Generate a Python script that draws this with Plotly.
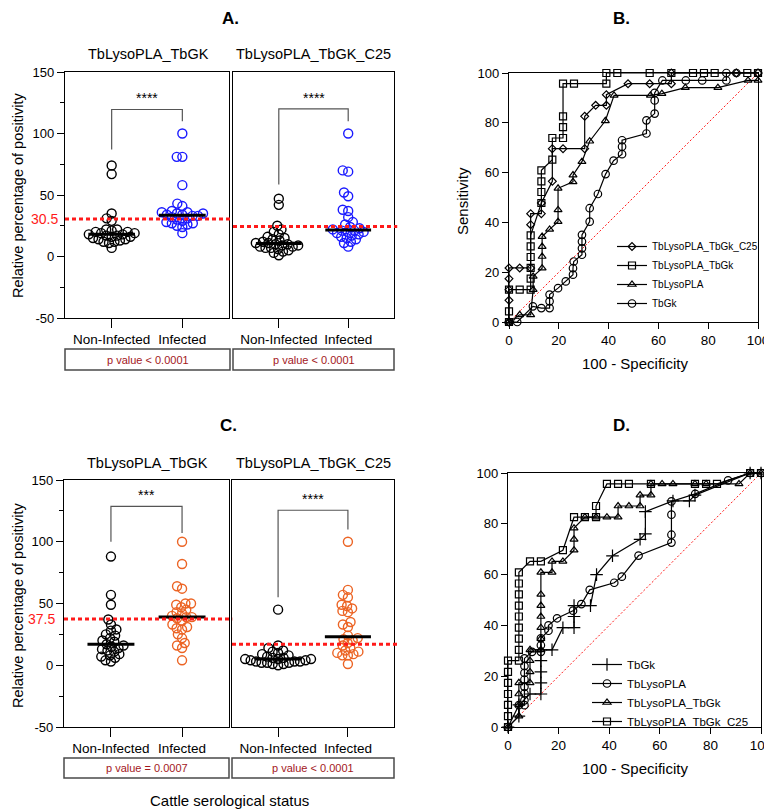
import numpy as np
import plotly.graph_objects as go

# the page body keeps an 8px margin, so the figure is placed 8px in from the window corner
OFF = 8
W, H = 772 - OFF, 810 - OFF
FONT = "Liberation Sans, Arial, sans-serif"

groups = ["Non-Infected", "Infected"]
sub_titles = ["TbLysoPLA_TbGK", "TbLysoPLA_TbGK_C25"]

# panel A - relative percentage of positivity (blue)
a1_neg = [74, 67, 35, 31, 29, 22, 22, 21, 20, 20, 19, 19, 18, 18, 17, 17, 16, 16, 15, 14, 14, 13, 12, 12, 11, 7]
a1_pos = [100, 81, 81, 58, 43, 41, 37, 36, 36, 35, 35, 34, 34, 33, 33, 32, 31, 30, 29, 28, 27, 27, 26, 25, 24, 19]
a2_neg = [47, 42, 25, 22, 20, 18, 16, 15, 14, 13, 12, 11, 11, 10, 10, 9, 9, 8, 8, 7, 7, 6, 5, 4, 3, 1]
a2_pos = [100, 70, 69, 52, 49, 38, 37, 32, 28, 26, 24, 23, 22, 21, 21, 20, 20, 19, 18, 17, 16, 15, 14, 12, 11, 8]
a_cutoffs = [30.5, 24.4]
a_stars = ["****", "****"]
a_pvalues = ["p value < 0.0001", "p value < 0.0001"]
# bracket: top, left end, right end
a_brackets = [(119.5, 87, 110), (120, 58.5, 110)]

# panel C - relative percentage of positivity (orange)
c1_neg = [88, 57, 49, 37, 33, 29, 28, 25, 24, 22, 20, 19, 17, 16, 15, 14, 13, 12, 11, 9, 8, 7, 6, 4, 3]
c1_pos = [100, 82, 64, 62, 50, 50, 49, 47, 45, 43, 42, 40, 39, 39, 38, 36, 33, 31, 30, 29, 25, 22, 18, 16, 14, 4]
c2_neg = [45, 16, 14, 12, 11, 10, 9, 8, 7, 6, 6, 5, 5, 5, 4, 4, 3, 3, 3, 2, 2, 2, 1, 1, 0]
c2_pos = [100, 61, 57, 55, 49, 48, 46, 44, 43, 35, 33, 31, 24, 22, 21, 20, 18, 16, 14, 12, 11, 10, 9, 8, 8, 1]
c_cutoffs = [37.5, 17]
c_stars = ["***", "****"]
c_pvalues = ["p value = 0.0007", "p value < 0.0001"]
c_brackets = [(128.7, 100, 107), (125.5, 55, 110)]

# panel B - ROC curves
b_c25_x = [0, 0, 0, 0, 0, 4.3, 8.7, 8.7, 8.7, 13, 13, 17.4, 17.4, 21.7, 30.4, 30.4, 34.8, 39.1, 39.1, 47.8, 56.5, 65.2, 65.2, 91.3, 100]
b_c25_y = [0, 8.7, 13, 17.4, 21.7, 21.7, 21.7, 39.1, 43.5, 43.5, 47.8, 56.5, 69.6, 69.6, 69.6, 82.6, 87, 87, 91.3, 95.7, 95.7, 95.7, 100, 100, 100]
b_gk2_x = [0, 0, 0, 4.3, 8.7, 8.7, 8.7, 8.7, 8.7, 8.7, 13, 13, 13, 13, 17.4, 17.4, 21.7, 21.7, 21.7, 21.7, 26.1, 39.1, 39.1, 43.5, 56.5, 65.2, 73.9, 78.3, 82.6, 95.7, 100]
b_gk2_y = [0, 4.3, 13, 13, 13, 17.4, 21.7, 26.1, 30.4, 34.8, 47.8, 52.2, 56.5, 60.9, 65.2, 73.9, 73.9, 78.3, 82.6, 95.7, 95.7, 95.7, 100, 100, 100, 100, 100, 100, 100, 100, 100]
b_pla_x = [0, 4.3, 8.7, 9.7, 9.7, 13.3, 13.3, 13.3, 13.3, 16.3, 19.7, 19.7, 19.7, 25.7, 25.7, 29.3, 32.4, 38.7, 42.2, 56.8, 61.4, 70.8, 83.9, 96, 100]
b_pla_y = [0, 2.9, 2.9, 13, 18.3, 21.6, 26.3, 30.3, 34.3, 37.2, 40.3, 45, 53.7, 56.3, 59, 64.4, 72.6, 80.8, 91, 91, 91.7, 94.1, 94.1, 97, 97]
b_gk_x = [0, 3.3, 9.6, 13, 16.3, 16.3, 16.3, 19.7, 22.8, 25.7, 25.7, 26, 29.3, 29.3, 29.3, 29.3, 32.4, 32.4, 35.7, 38.8, 42, 45.4, 45.4, 45.4, 55.2, 55.2, 58.5, 58.5, 58.5, 61.6, 71, 77.6, 87.3, 87.3, 91.3, 100]
b_gk_y = [0, 0, 6.3, 5.6, 5.6, 8.3, 11, 13.6, 16.3, 19, 21.6, 24.3, 27, 29.6, 32.3, 35, 40.3, 45.7, 51.4, 59.4, 64.8, 67.4, 70.4, 73, 75.7, 81, 83.7, 89, 92, 97, 97, 97, 97, 100, 100, 100]

# panel D - ROC curves
d_gk_x = [0, 4.3, 4.3, 8.7, 13, 13, 13, 13, 13, 17.4, 21.7, 26.1, 26.1, 26.1, 32.6, 35, 41.3, 52.2, 54.3, 54.3, 65.2, 71.7, 73.9, 95.7, 100]
d_gk_y = [0, 4.3, 8.7, 13, 13, 17.4, 21.7, 26.1, 30.4, 30.4, 39.1, 39.1, 43.5, 47.8, 47.8, 60, 67.4, 73.9, 76, 84.8, 89, 89, 91.3, 100, 100]
d_pla_x = [0, 4.3, 6.5, 6.5, 6.5, 6.5, 6.5, 6.5, 6.5, 6.5, 9.5, 13, 13, 13, 16, 16, 19.4, 25.7, 29, 32.3, 42, 45, 51.6, 64.6, 64.6, 64.6, 64.6, 74, 87, 95.7, 100]
d_pla_y = [0, 8.6, 8.6, 10.5, 13.2, 15.8, 18.7, 21.3, 24, 27, 29.6, 29.6, 32.2, 34.9, 37.9, 40, 42.8, 45.8, 48.4, 54, 56.8, 59.2, 67.5, 72.6, 75.7, 83.6, 88.8, 91.8, 97.1, 100, 100]
d_gk2_x = [0, 4.3, 4.3, 4.3, 4.3, 8.7, 8.7, 8.7, 8.7, 13, 13, 13, 13, 13, 13, 13, 17.4, 17.4, 21.7, 26.1, 26.1, 26.1, 30.4, 34.8, 39.1, 43.5, 43.5, 47.8, 52.2, 52.2, 56.5, 56.5, 60.9, 65.2, 73.9, 78.3, 91.3, 95.7, 100]
d_gk2_y = [0, 4.3, 8.7, 13, 17.4, 17.4, 21.7, 26.1, 30.4, 30.4, 34.8, 39.1, 43.5, 47.8, 52.2, 60.9, 60.9, 65.2, 65.2, 69.6, 73.9, 78.3, 82.6, 82.6, 82.6, 82.6, 87, 87, 87, 91.3, 91.3, 95.7, 95.7, 95.7, 95.7, 95.7, 95.7, 100, 100]
d_c25_x = [0, 0, 0, 0, 0, 0, 0, 4.3, 4.3, 4.3, 4.3, 4.3, 4.3, 4.3, 4.3, 4.3, 8.7, 13, 21.7, 26.1, 30.4, 34.8, 34.8, 39.1, 43.5, 47.8, 56.5, 73.9, 78.3, 82.6, 95.7, 100]
d_c25_y = [0, 4.3, 8.7, 13, 17.4, 21.7, 26.1, 26.1, 30.4, 34.8, 39.1, 43.5, 47.8, 52.2, 56.5, 60.9, 65.2, 65.2, 69.6, 82.6, 82.6, 82.6, 87, 95.7, 95.7, 95.7, 95.7, 95.7, 95.7, 95.7, 100, 100]

BLUE = "#1a1aff"
ORANGE = "#ec6424"
RED = "#ff1a1a"
DARKRED = "#a3171c"


# screen pixel -> paper fraction
def px_x(p):
    return (p - OFF) / W


def px_y(p):
    return 1 - (p - OFF) / H


def dom_x(a, b):
    return [px_x(a), px_x(b)]


def dom_y(top, bottom):
    return [px_y(bottom), px_y(top)]


def swarm(values, ppu_y, ppu_x, d=5.6):
    # simple beeswarm: place each point as close to the centre as it fits
    order = np.argsort(values)
    placed = []
    xs = np.zeros(len(values))
    for i in order:
        y = values[i] * ppu_y
        cands = [0.0]
        for (qx, qy) in placed:
            dy = abs(qy - y)
            if dy < d:
                dx = np.sqrt(d * d - dy * dy)
                cands += [qx + dx, qx - dx]
        cands.sort(key=lambda c: (abs(c), c))
        best = 0.0
        for c in cands:
            if all((c - qx) ** 2 + (y - qy) ** 2 >= d * d - 1e-6 for qx, qy in placed):
                best = c
                break
        placed.append((best, y))
        xs[i] = best / ppu_x
    return xs


fig = go.Figure()
shapes = []
annotations = []

# dot-plot subplots: (axis index, x domain px, y domain px, neg, pos, colour, cutoff, stars, bracket)
dot_panels = [
    (1, (65, 229), (72, 318), a1_neg, a1_pos, BLUE, a_cutoffs[0], a_stars[0], a_brackets[0]),
    (2, (233, 394), (72, 318), a2_neg, a2_pos, BLUE, a_cutoffs[1], a_stars[1], a_brackets[1]),
    (3, (64, 229), (480, 727), c1_neg, c1_pos, ORANGE, c_cutoffs[0], c_stars[0], c_brackets[0]),
    (4, (232, 394), (480, 727), c2_neg, c2_pos, ORANGE, c_cutoffs[1], c_stars[1], c_brackets[1]),
]
XR = [-0.66, 1.66]
YR = [-50, 150]

for (k, xd, yd, neg, pos, col, cut, star, br) in dot_panels:
    ppu_x = (xd[1] - xd[0]) / (XR[1] - XR[0])
    ppu_y = (yd[1] - yd[0]) / (YR[1] - YR[0])
    xn = "x" if k == 1 else "x%d" % k
    yn = "y" if k == 1 else "y%d" % k
    for g, vals, c in [(0, neg, "black"), (1, pos, col)]:
        vals = np.array(vals, dtype=float)
        offs = swarm(vals, ppu_y, ppu_x)
        fig.add_trace(go.Scatter(
            x=g + offs, y=vals, mode="markers", xaxis=xn, yaxis=yn,
            showlegend=False, cliponaxis=False,
            marker=dict(symbol="circle-open", size=9, color=c,
                        line=dict(color=c, width=1.4)),
        ))
        med = float(np.median(vals))
        shapes.append(dict(type="line", xref=xn, yref=yn, x0=g - 0.33, x1=g + 0.33,
                           y0=med, y1=med, line=dict(color="black", width=3)))
    # cut-off line
    shapes.append(dict(type="line", xref=xn + " domain", yref=yn, x0=0, x1=1.02,
                       y0=cut, y1=cut, line=dict(color=RED, width=3, dash="4px,3px")))
    # significance bracket
    top, le, re = br
    shapes.append(dict(type="path", xref=xn, yref=yn,
                       path="M 0,%s L 0,%s L 1,%s L 1,%s" % (le, top, top, re),
                       line=dict(color="#555555", width=1.2)))
    annotations.append(dict(x=0.5, y=top + 1, xref=xn, yref=yn, text=star, showarrow=False,
                            xanchor="center", yanchor="bottom",
                            font=dict(size=14, color="black", family=FONT)))

    fig.layout["xaxis" if k == 1 else "xaxis%d" % k] = dict(
        domain=dom_x(*xd), range=XR, tickmode="array", tickvals=[0, 1], ticktext=groups,
        ticks="outside", ticklen=9, tickwidth=1.3, tickcolor="black",
        showline=True, mirror=True, linecolor="black", linewidth=1.3,
        showgrid=False, zeroline=False, tickfont=dict(size=13.5, color="black"),
        anchor=yn,
    )
    left = k in (1, 3)
    fig.layout["yaxis" if k == 1 else "yaxis%d" % k] = dict(
        domain=dom_y(*yd), range=YR, tickmode="array",
        tickvals=[-50, 0, 50, 100, 150] if left else [],
        ticktext=["-50", "0", "50", "100", "150"] if left else [],
        ticks="outside" if left else "", ticklen=7, tickwidth=1.3, tickcolor="black",
        minor=dict(tickmode="array", tickvals=[-25, 25, 75, 125], ticks="outside",
                   ticklen=4, tickwidth=1.3, tickcolor="black") if left else None,
        showline=True, mirror=True, linecolor="black", linewidth=1.3,
        showgrid=False, zeroline=False, tickfont=dict(size=13, color="black"),
        anchor=xn,
    )

# ROC subplots
roc_b = [
    ("TbLysoPLA_TbGk_C25", b_c25_x, b_c25_y, "diamond-open", 6),
    ("TbLysoPLA_TbGk", b_gk2_x, b_gk2_y, "square-open", 7),
    ("TbLysoPLA", b_pla_x, b_pla_y, "triangle-up-open", 7),
    ("TbGk", b_gk_x, b_gk_y, "circle-open", 7.5),
]
roc_d = [
    ("TbGk", d_gk_x, d_gk_y, "cross-thin-open", 9),
    ("TbLysoPLA", d_pla_x, d_pla_y, "circle-open", 7.5),
    ("TbLysoPLA_TbGk", d_gk2_x, d_gk2_y, "triangle-up-open", 7),
    ("TbLysoPLA_TbGk_C25", d_c25_x, d_c25_y, "square-open", 7),
]

for k, curves, leg, xd, yd in [(5, roc_b, "legend", (509, 758), (73, 322)),
                               (6, roc_d, "legend2", (508, 761), (473, 727))]:
    xn, yn = "x%d" % k, "y%d" % k
    fig.add_trace(go.Scatter(x=[0, 100], y=[0, 100], mode="lines", xaxis=xn, yaxis=yn,
                             showlegend=False, line=dict(color=RED, width=1, dash="2px,2px")))
    for name, xs, ys, sym, sz in curves:
        fig.add_trace(go.Scatter(
            x=xs, y=ys, name=name, mode="lines+markers", xaxis=xn, yaxis=yn,
            legend=leg, cliponaxis=False,
            line=dict(color="black", width=1.2),
            marker=dict(symbol=sym, size=sz, color="black", line=dict(color="black", width=1.2)),
        ))
    fig.layout["xaxis%d" % k] = dict(
        domain=dom_x(*xd), range=[0, 100], dtick=20, ticks="outside", ticklen=6,
        tickwidth=1.3, tickcolor="black", showline=True, mirror=True, linecolor="black",
        linewidth=1.3, showgrid=False, zeroline=False, tickfont=dict(size=13.5, color="black"),
        ticklabeloverflow="allow", anchor=yn,
    )
    fig.layout["yaxis%d" % k] = dict(
        domain=dom_y(*yd), range=[0, 100], dtick=20, ticks="outside", ticklen=6,
        tickwidth=1.3, tickcolor="black", showline=True, mirror=True, linecolor="black",
        linewidth=1.3, showgrid=False, zeroline=False, tickfont=dict(size=13, color="black"),
        ticklabeloverflow="allow", anchor=xn,
    )

# p value boxes
for (x0, x1, y0, y1, txt) in [(65, 230, 349, 370, a_pvalues[0]), (233, 394, 349, 370, a_pvalues[1]),
                              (64, 229, 758, 778, c_pvalues[0]), (232, 394, 758, 778, c_pvalues[1])]:
    shapes.append(dict(type="rect", xref="paper", yref="paper", x0=px_x(x0), x1=px_x(x1),
                       y0=px_y(y1), y1=px_y(y0), line=dict(color="#4a4a4a", width=1.5)))
    annotations.append(dict(x=px_x((x0 + x1) / 2), y=px_y((y0 + y1) / 2), xref="paper", yref="paper",
                            text=txt, showarrow=False, xanchor="center", yanchor="middle",
                            font=dict(size=11, color=DARKRED)))

# cut-off labels on the left axes
annotations.append(dict(x=px_x(60), y=a_cutoffs[0], xref="paper", yref="y", text=str(a_cutoffs[0]),
                        xanchor="right", yanchor="middle", showarrow=False,
                        font=dict(size=14, color=RED)))
annotations.append(dict(x=px_x(57), y=c_cutoffs[0], xref="paper", yref="y3", text=str(c_cutoffs[0]),
                        xanchor="right", yanchor="middle", showarrow=False,
                        font=dict(size=14, color=RED)))


def label(text, x, y, size, bold=False, angle=0):
    annotations.append(dict(x=px_x(x), y=px_y(y), xref="paper", yref="paper", showarrow=False,
                            xanchor="center", yanchor="middle",
                            text="<b>%s</b>" % text if bold else text, textangle=angle,
                            font=dict(size=size, color="black", family=FONT)))


label("A.", 230, 19, 17, bold=True)
label("B.", 621, 19, 17, bold=True)
label("C.", 228, 425, 17, bold=True)
label("D.", 621, 425, 17, bold=True)
label(sub_titles[0], 148, 54, 14.5)
label(sub_titles[1], 313, 54, 14.5)
label(sub_titles[0], 147, 463, 14.5)
label(sub_titles[1], 313, 463, 14.5)
label("Relative percentage of positivity", 18, 196, 14.5, angle=-90)
label("Relative percentage of positivity", 18, 606, 14.5, angle=-90)
label("Cattle serological status", 229, 800, 15)
label("Sensitivity", 463, 201, 15, angle=-90)
label("100 - Specificity", 635, 363, 15)
label("100 - Specificity", 635, 768, 15)

fig.update_layout(
    width=W, height=H, autosize=False,
    margin=dict(l=0, r=0, t=0, b=0, autoexpand=False),
    paper_bgcolor="white", plot_bgcolor="white",
    font=dict(family=FONT, color="black"),
    shapes=shapes, annotations=annotations,
    legend=dict(x=px_x(612), y=px_y(232), xanchor="left", yanchor="top",
                bgcolor="rgba(0,0,0,0)", font=dict(size=10), tracegroupgap=0),
    legend2=dict(x=px_x(587), y=px_y(650), xanchor="left", yanchor="top",
                 bgcolor="rgba(0,0,0,0)", font=dict(size=11.5), tracegroupgap=0),
)

fig.write_html("out.html")
